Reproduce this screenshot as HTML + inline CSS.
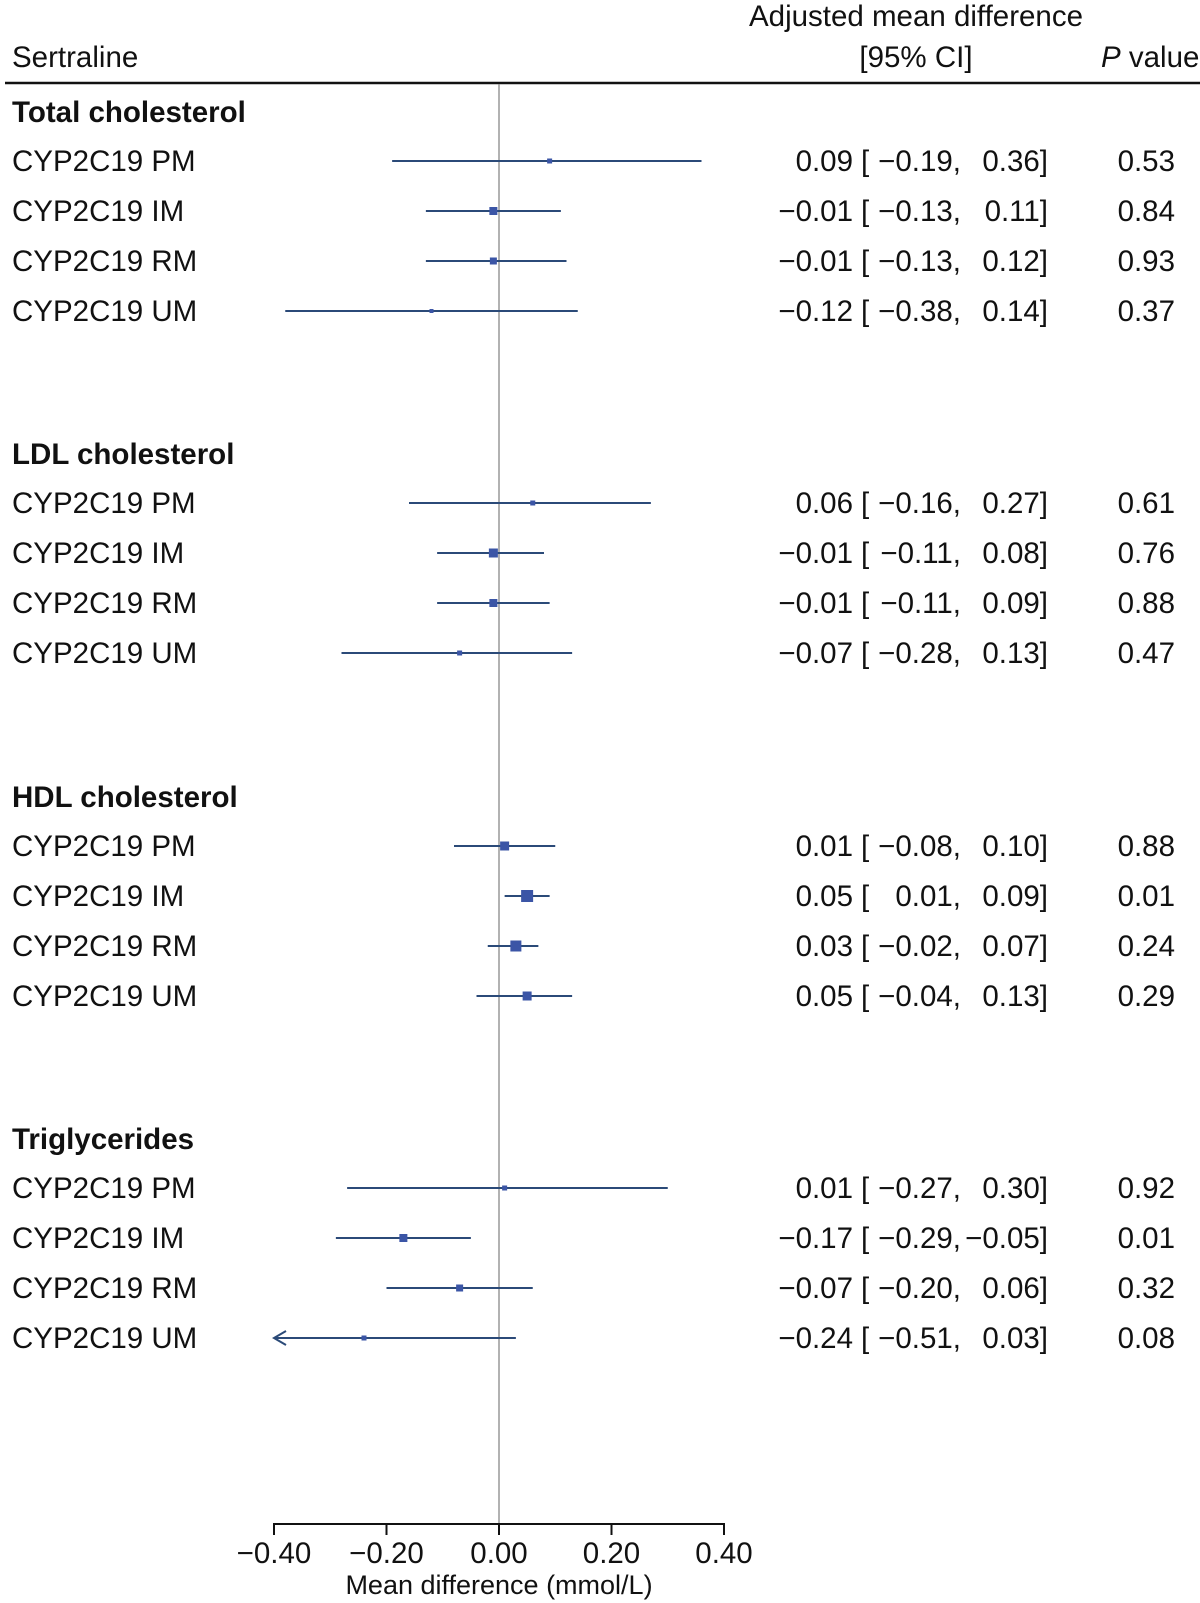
<!DOCTYPE html>
<html><head><meta charset="utf-8"><style>
html,body{margin:0;padding:0;background:#fff;}
svg{display:block;}
text{font-family:"Liberation Sans",Arial,sans-serif;font-size:29.5px;fill:#111;}
.b{font-weight:bold;}
</style></head><body>
<svg width="1200" height="1603" viewBox="0 0 1200 1603" xmlns="http://www.w3.org/2000/svg">
<text x="916" y="26" text-anchor="middle">Adjusted mean difference</text>
<text x="12" y="67">Sertraline</text>
<text x="916" y="67" text-anchor="middle">[95% CI]</text>
<text x="1101" y="67"><tspan font-style="italic">P</tspan> value</text>
<line x1="5" y1="83" x2="1200" y2="83" stroke="#111" stroke-width="2.5"/>
<line x1="499" y1="84" x2="499" y2="1524" stroke="#888" stroke-width="1.3"/>
<line x1="274" y1="1524" x2="724" y2="1524" stroke="#111" stroke-width="2"/>
<g stroke="#111" stroke-width="2">
<line x1="274" y1="1523" x2="274" y2="1535"/><line x1="386.5" y1="1523" x2="386.5" y2="1535"/><line x1="499" y1="1523" x2="499" y2="1535"/><line x1="611.5" y1="1523" x2="611.5" y2="1535"/><line x1="724" y1="1523" x2="724" y2="1535"/>
</g>
<g text-anchor="middle">
<text x="274" y="1563">−0.40</text><text x="386.5" y="1563">−0.20</text><text x="499" y="1563">0.00</text><text x="611.5" y="1563">0.20</text><text x="724" y="1563">0.40</text>
<text x="499" y="1594" style="font-size:27px">Mean difference (mmol/L)</text>
</g>
<g id="rows"></g>
</svg>
<script>
var sections=[
["Total cholesterol",0,[[0.09,-0.19,0.36,5,"0.09","−0.19,","0.36]","0.53"],[-0.01,-0.13,0.11,8,"−0.01","−0.13,","0.11]","0.84"],[-0.01,-0.13,0.12,7,"−0.01","−0.13,","0.12]","0.93"],[-0.12,-0.38,0.14,4,"−0.12","−0.38,","0.14]","0.37"]]],
["LDL cholesterol",342,[[0.06,-0.16,0.27,5,"0.06","−0.16,","0.27]","0.61"],[-0.01,-0.11,0.08,9,"−0.01","−0.11,","0.08]","0.76"],[-0.01,-0.11,0.09,8,"−0.01","−0.11,","0.09]","0.88"],[-0.07,-0.28,0.13,5,"−0.07","−0.28,","0.13]","0.47"]]],
["HDL cholesterol",685,[[0.01,-0.08,0.10,9,"0.01","−0.08,","0.10]","0.88"],[0.05,0.01,0.09,12,"0.05","0.01,","0.09]","0.01"],[0.03,-0.02,0.07,11,"0.03","−0.02,","0.07]","0.24"],[0.05,-0.04,0.13,9,"0.05","−0.04,","0.13]","0.29"]]],
["Triglycerides",1027,[[0.01,-0.27,0.30,5,"0.01","−0.27,","0.30]","0.92"],[-0.17,-0.29,-0.05,8,"−0.17","−0.29,","−0.05]","0.01"],[-0.07,-0.20,0.06,7,"−0.07","−0.20,","0.06]","0.32"],[-0.24,-0.51,0.03,5,"−0.24","−0.51,","0.03]","0.08"]]]
];
var labs=["CYP2C19 PM","CYP2C19 IM","CYP2C19 RM","CYP2C19 UM"];
function X(v){return 499+562.5*v;}
var s="";
sections.forEach(function(sec){
 var o=sec[1];
 s+='<text class="b" x="12" y="'+(122+o)+'">'+sec[0]+'</text>';
 sec[2].forEach(function(r,i){
  var y=161+o+i*50, ty=y+10;
  var lo=r[1], arrow=false; if(lo<-0.4){lo=-0.4;arrow=true;}
  s+='<text x="12" y="'+ty+'">'+labs[i]+'</text>';
  s+='<line x1="'+X(lo)+'" y1="'+y+'" x2="'+X(r[2])+'" y2="'+y+'" stroke="#2b4a78" stroke-width="2"/>';
  if(arrow){var ax=X(lo);s+='<polyline points="'+(ax+12)+','+(y-7)+' '+ax+','+y+' '+(ax+12)+','+(y+7)+'" fill="none" stroke="#2b4a78" stroke-width="2"/>';}
  var h=r[3]/2;
  s+='<rect x="'+(X(r[0])-h)+'" y="'+(y-h)+'" width="'+r[3]+'" height="'+r[3]+'" fill="#3b55a6"/>';
  s+='<text x="853" y="'+ty+'" text-anchor="end">'+r[4]+'</text>';
  s+='<text x="861" y="'+ty+'">[</text>';
  s+='<text x="961" y="'+ty+'" text-anchor="end">'+r[5]+'</text>';
  s+='<text x="1048" y="'+ty+'" text-anchor="end">'+r[6]+'</text>';
  s+='<text x="1175" y="'+ty+'" text-anchor="end">'+r[7]+'</text>';
 });
});
document.getElementById("rows").innerHTML=s;
</script>
</body></html>
